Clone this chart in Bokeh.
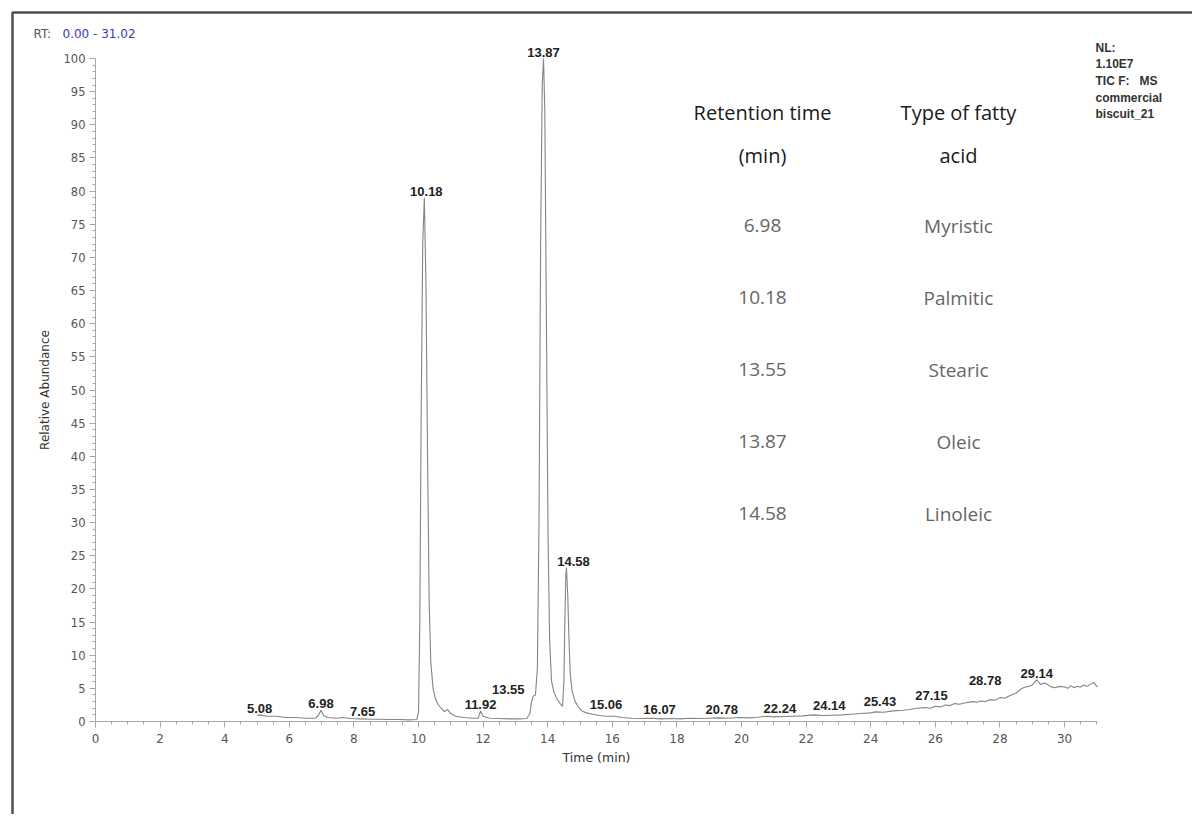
from bokeh.plotting import figure
from bokeh.models import (Range1d, FixedTicker, ColumnDataSource, LabelSet, Label,
                          BoxAnnotation, LinearAxis)
from bokeh.core.properties import value
from bokeh.embed import file_html
from bokeh.resources import INLINE

# ---------------- data ----------------
time_min = [5.00, 5.08, 5.3, 5.6, 5.9, 6.2, 6.5, 6.8, 6.9, 6.98, 7.06, 7.2, 7.45, 7.65, 7.9,
            8.2, 8.5, 8.8, 9.1, 9.4, 9.7, 9.95, 10.0, 10.04, 10.08, 10.13, 10.18, 10.23,
            10.28, 10.33, 10.38, 10.45, 10.52, 10.6, 10.7, 10.8, 10.9, 11.0, 11.15, 11.4,
            11.7, 11.85, 11.92, 12.0, 12.2, 12.5, 12.8, 13.1, 13.35, 13.45, 13.5, 13.55,
            13.62, 13.68, 13.73, 13.78, 13.83, 13.87, 13.91, 13.96, 14.01, 14.06, 14.12,
            14.2, 14.3, 14.4, 14.46, 14.5, 14.53, 14.56, 14.58, 14.62, 14.66, 14.7, 14.76,
            14.85, 14.95, 15.06, 15.2, 15.4, 15.6, 15.8, 16.07, 16.3, 16.6, 16.9, 17.2,
            17.5, 17.8, 18.1, 18.4, 18.7, 19.0, 19.3, 19.6, 19.9, 20.2, 20.5, 20.78, 21.0,
            21.3, 21.6, 21.9, 22.24, 22.5, 22.8, 23.1, 23.4, 23.7, 24.0, 24.14, 24.4, 24.7,
            25.0, 25.2, 25.43, 25.7, 25.85, 26.0, 26.15, 26.3, 26.45, 26.6, 26.75, 26.9,
            27.15, 27.3, 27.4, 27.55, 27.7, 27.85, 28.0, 28.15, 28.3, 28.5, 28.65, 28.78,
            28.9, 29.0, 29.14, 29.25, 29.4, 29.55, 29.7, 29.85, 30.0, 30.1, 30.2, 30.3,
            30.4, 30.5, 30.6, 30.7, 30.8, 30.9, 31.02]
abundance = [0.9, 1.0, 0.8, 0.8, 0.6, 0.6, 0.5, 0.5, 0.9, 1.7, 0.9, 0.6, 0.5, 0.6, 0.45,
             0.4, 0.35, 0.35, 0.3, 0.3, 0.25, 0.3, 1.5, 15, 45, 72, 79, 66,
             40, 18, 9, 5, 3.5, 2.6, 2.0, 1.5, 1.8, 1.2, 0.8, 0.6,
             0.5, 0.5, 1.6, 0.8, 0.5, 0.45, 0.4, 0.4, 0.45, 1.2, 3.0, 3.8,
             4.0, 8, 30, 72, 96, 100, 92, 60, 28, 12, 6,
             4.3, 3.3, 2.6, 2.3, 6, 15, 22, 23.2, 19, 12, 7, 4.5,
             3.0, 2.2, 1.6, 1.3, 1.1, 0.9, 0.8, 0.8, 0.6, 0.5, 0.45, 0.5,
             0.4, 0.45, 0.4, 0.5, 0.45, 0.5, 0.55, 0.5, 0.6, 0.55, 0.65, 0.8, 0.7,
             0.75, 0.8, 0.85, 1.0, 0.9, 0.95, 1.0, 1.1, 1.2, 1.3, 1.45, 1.4, 1.6,
             1.7, 1.8, 2.0, 2.1, 2.0, 2.3, 2.2, 2.5, 2.4, 2.7, 2.6, 2.8,
             3.0, 2.9, 3.1, 3.0, 3.3, 3.2, 3.6, 3.5, 3.9, 4.3, 4.9, 5.2,
             5.3, 5.5, 6.3, 5.6, 5.8, 5.3, 5.1, 5.3, 5.2, 5.0, 5.4, 5.1,
             5.3, 5.2, 5.5, 5.3, 5.6, 5.9, 5.2]

peak_times = [5.08, 6.98, 7.65, 10.18, 11.92, 13.55, 13.87, 14.58, 15.06, 16.07,
              20.78, 22.24, 24.14, 25.43, 27.15, 28.78, 29.14]
peak_heights = [1.0, 1.7, 0.6, 79, 1.6, 3.8, 100, 23.2, 1.6, 0.8,
                0.8, 1.0, 1.45, 2.0, 3.0, 5.2, 6.3]

x_ticks = list(range(0, 31, 2))
y_ticks = list(range(0, 101, 5))

table_rt = ["6.98", "10.18", "13.55", "13.87", "14.58"]
table_acid = ["Myristic", "Palmitic", "Stearic", "Oleic", "Linoleic"]
table_head_rt = ["Retention time", "(min)"]
table_head_acid = ["Type of fatty", "acid"]
nl_lines = ["NL:", "1.10E7", "TIC F:\u00a0\u00a0 MS", "commercial", "biscuit_21"]

# ---------------- layout helpers ----------------
W, H = 1192, 814
XMAX, YMAX = 31.02, 100.0
X0, X1 = 95, 1097      # canvas px of x = 0 and x = XMAX
Y0, Y1 = 721, 58       # canvas px of y = 0 and y = YMAX
PXX = (X1 - X0) / XMAX
PXY = (Y0 - Y1) / YMAX

def dx(cx):
    return (cx - X0) / PXX

def dy(cy):
    return (Y0 - cy) / PXY

p = figure(width=W, height=H, output_backend="svg", toolbar_location=None,
           x_range=Range1d(dx(0), dx(W)), y_range=Range1d(dy(H), dy(0)),
           x_axis_type=None, y_axis_type=None, min_border=0)
p.outline_line_color = None
p.xgrid.visible = False
p.ygrid.visible = False
p.background_fill_color = "white"
p.border_fill_color = "white"

p.line(time_min, abundance, line_color="#858585", line_width=1.1)

xaxis = LinearAxis(fixed_location=0, bounds=(0, XMAX),
                   ticker=FixedTicker(ticks=x_ticks, minor_ticks=[i * 0.5 for i in range(0, 63)]))
yaxis = LinearAxis(fixed_location=0, bounds=(0, YMAX),
                   ticker=FixedTicker(ticks=y_ticks, minor_ticks=list(range(0, 101))))
AX = "#a8a8a8"
for ax in (xaxis, yaxis):
    ax.axis_line_color = AX
    ax.major_tick_line_color = AX
    ax.minor_tick_line_color = AX
    ax.major_tick_in = 0
    ax.minor_tick_in = 0
    ax.major_tick_out = 6
    ax.minor_tick_out = 3
    ax.major_label_text_font = "DejaVu Sans"
    ax.major_label_text_color = "#555555"
    ax.axis_label_text_font = "DejaVu Sans"
    ax.axis_label_text_font_style = "normal"
    ax.axis_label_text_color = "#333333"
xaxis.major_label_text_font_size = "12px"
yaxis.major_label_text_font_size = "11.5px"
xaxis.major_label_standoff = 6
yaxis.major_label_standoff = 4
xaxis.axis_label = "Time (min)"
xaxis.axis_label_text_font_size = "12.5px"
xaxis.axis_label_standoff = 4
yaxis.axis_label = "Relative Abundance"
yaxis.axis_label_text_font_size = "12px"
yaxis.axis_label_standoff = 9
p.add_layout(xaxis, "below")
p.add_layout(yaxis, "left")

# peak labels
label_dx = [0, 0, 20, 2, 0, -25, 0, 7, 24, 45, -45, -34, -46, -37, -41, -40, 0]
src = ColumnDataSource(dict(x=peak_times, y=peak_heights,
                            text=["%.2f" % t for t in peak_times], dx=label_dx))
p.add_layout(LabelSet(x="x", y="y", text="text", source=src, x_offset="dx", y_offset=2,
                      text_align="center", text_baseline="bottom",
                      text_font=value("Liberation Sans"), text_font_style="bold",
                      text_font_size="13px", text_color="#222222"))

# RT header
p.add_layout(Label(x=dx(33), y=dy(33), text="RT:", text_font="DejaVu Sans",
                   text_font_size="12px", text_color="#555555",
                   text_align="left", text_baseline="middle"))
p.add_layout(Label(x=dx(62), y=dy(33), text="0.00 - 31.02", text_font="DejaVu Sans",
                   text_font_size="12px", text_color="#3a3ab0",
                   text_align="left", text_baseline="middle"))

# NL block
for i, s in enumerate(nl_lines):
    p.add_layout(Label(x=dx(1095), y=dy(47 + i * 16.7), text=s, text_font="Liberation Sans",
                       text_font_style="bold", text_font_size="12px", text_color="#333333",
                       text_align="left", text_baseline="middle"))

# table
for i, s in enumerate(table_head_rt):
    p.add_layout(Label(x=dx(762), y=dy(112 + i * 43), text=s, text_font="Open Sans",
                       text_font_size="20px", text_color="#1a1a1a",
                       text_align="center", text_baseline="middle"))
for i, s in enumerate(table_head_acid):
    p.add_layout(Label(x=dx(958), y=dy(112 + i * 43), text=s, text_font="Open Sans",
                       text_font_size="20px", text_color="#1a1a1a",
                       text_align="center", text_baseline="middle"))
for i, (a, b) in enumerate(zip(table_rt, table_acid)):
    yy = dy(225 + i * 72)
    p.add_layout(Label(x=dx(762), y=yy, text=a, text_font="Open Sans",
                       text_font_size="19px", text_color="#666666",
                       text_align="center", text_baseline="middle"))
    p.add_layout(Label(x=dx(958), y=yy, text=b, text_font="Open Sans",
                       text_font_size="19px", text_color="#666666",
                       text_align="center", text_baseline="middle"))

# page frame (left and top edges)
p.add_layout(BoxAnnotation(left=dx(12), right=dx(W + 60), top=dy(12), bottom=dy(H + 60),
                           fill_color=None, line_color="#505050", line_alpha=1.0,
                           line_width=2.5))

open("out.html", "w").write(file_html(p, INLINE))
